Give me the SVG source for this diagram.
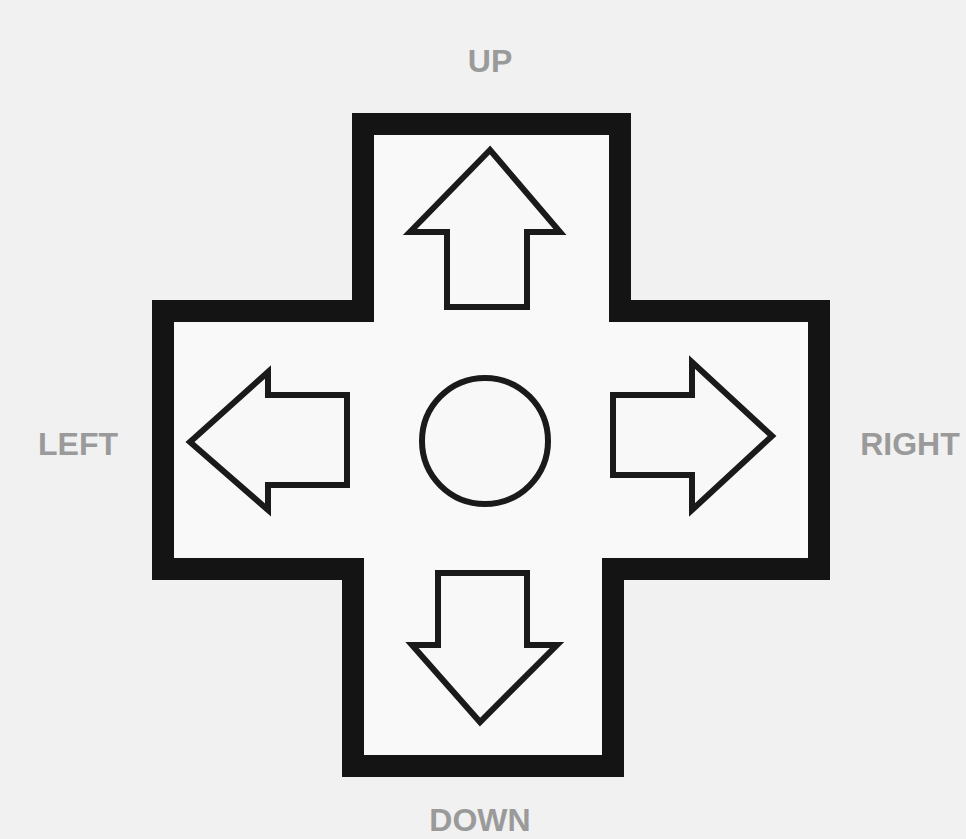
<svg xmlns="http://www.w3.org/2000/svg" width="966" height="839" viewBox="0 0 966 839">
<style>
.pad{fill:#f9f9f9;stroke:#141414;stroke-width:22;stroke-linejoin:miter}
.arr{fill:#f8f8f8;stroke:#1a1a1a;stroke-width:6;stroke-linejoin:miter}
.lbl{font-family:"Liberation Sans",Arial,sans-serif;font-size:32px;font-weight:bold;fill:#9a9a9a;text-anchor:middle}
</style>
<rect width="966" height="839" fill="#f1f1f1"/>
<g id="dpad">
<path class="pad" d="M363,311 V124 H620 V311 H819 V569 H613 V766 H353 V569 H163 V311 Z"/>
</g>
<g id="up-arrow"><path class="arr" d="M490,150 L410,232 H447 V307 H527 V232 H560 Z"/></g>
<g id="left-arrow"><path class="arr" d="M190,442 L268,372 V395 H347 V485 H268 V510 Z"/></g>
<g id="right-arrow"><path class="arr" d="M772,436 L692,362 V395 H613 V475 H692 V510 Z"/></g>
<g id="down-arrow"><path class="arr" d="M438,573 H527 V645 H557 L480,722 L412,645 H438 Z"/></g>
<g id="center"><circle cx="485" cy="441" r="63" fill="#f8f8f8" stroke="#1a1a1a" stroke-width="6"/></g>
<g id="connectors"></g>
<g id="labels">
<text class="lbl" x="490" y="72">UP</text>
<text class="lbl" x="480" y="831">DOWN</text>
<text class="lbl" x="78" y="455">LEFT</text>
<text class="lbl" x="910" y="455">RIGHT</text>
</g>
</svg>
